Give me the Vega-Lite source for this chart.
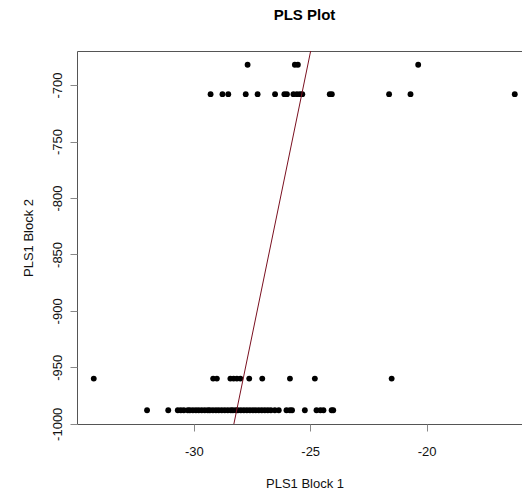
{
  "$schema": "https://vega.github.io/schema/vega-lite/v6.json",
  "autosize": "none",
  "width": 455,
  "height": 373,
  "padding": {"left": 77, "top": 51, "right": 0, "bottom": 68},
  "background": "white",
  "config": {
    "font": "Liberation Sans",
    "view": {"stroke": "#555", "strokeWidth": 1},
    "axis": {"grid": false, "domain": false, "tickColor": "#888", "tickSize": 7, "labelFont": "Liberation Sans", "labelFontSize": 13, "labelColor": "#111", "titleFont": "Liberation Sans", "titleFontSize": 13, "titleFontWeight": "normal", "titleColor": "#111", "labelExpr": "replace(datum.label, '\u2212', '-')"}
  },
  "title": {"text": "PLS Plot", "font": "Liberation Sans", "fontSize": 15, "fontWeight": "bold", "color": "#000", "offset": 26, "anchor": "middle"},
  "datasets": {
    "pts": [
      {"b1": -27.69, "b2": -682}, {"b1": -25.66, "b2": -682}, {"b1": -25.53, "b2": -682}, {"b1": -20.36, "b2": -682},
      {"b1": -29.28, "b2": -708}, {"b1": -28.77, "b2": -708}, {"b1": -28.52, "b2": -708}, {"b1": -27.77, "b2": -708},
      {"b1": -27.26, "b2": -708}, {"b1": -26.51, "b2": -708}, {"b1": -26.11, "b2": -708}, {"b1": -26.0, "b2": -708},
      {"b1": -25.72, "b2": -708}, {"b1": -25.57, "b2": -708}, {"b1": -25.44, "b2": -708}, {"b1": -25.34, "b2": -708},
      {"b1": -24.16, "b2": -708}, {"b1": -24.07, "b2": -708}, {"b1": -21.61, "b2": -708}, {"b1": -20.69, "b2": -708},
      {"b1": -16.21, "b2": -708},
      {"b1": -34.3, "b2": -960}, {"b1": -29.17, "b2": -960}, {"b1": -29.01, "b2": -960}, {"b1": -28.43, "b2": -960},
      {"b1": -28.29, "b2": -960}, {"b1": -28.15, "b2": -960}, {"b1": -28.0, "b2": -960}, {"b1": -27.62, "b2": -960},
      {"b1": -27.06, "b2": -960}, {"b1": -25.87, "b2": -960}, {"b1": -24.8, "b2": -960}, {"b1": -21.5, "b2": -960},
      {"b1": -32.01, "b2": -988}, {"b1": -31.1, "b2": -988}, {"b1": -30.69, "b2": -988}, {"b1": -30.56, "b2": -988},
      {"b1": -30.43, "b2": -988}, {"b1": -30.26, "b2": -988}, {"b1": -30.17, "b2": -988}, {"b1": -30.04, "b2": -988},
      {"b1": -29.91, "b2": -988}, {"b1": -29.79, "b2": -988}, {"b1": -29.66, "b2": -988}, {"b1": -29.53, "b2": -988},
      {"b1": -29.4, "b2": -988}, {"b1": -29.31, "b2": -988}, {"b1": -29.18, "b2": -988}, {"b1": -29.05, "b2": -988},
      {"b1": -28.93, "b2": -988}, {"b1": -28.8, "b2": -988}, {"b1": -28.67, "b2": -988}, {"b1": -28.54, "b2": -988},
      {"b1": -28.41, "b2": -988}, {"b1": -28.32, "b2": -988}, {"b1": -28.2, "b2": -988}, {"b1": -28.11, "b2": -988},
      {"b1": -27.98, "b2": -988}, {"b1": -27.85, "b2": -988}, {"b1": -27.72, "b2": -988}, {"b1": -27.59, "b2": -988},
      {"b1": -27.46, "b2": -988}, {"b1": -27.34, "b2": -988}, {"b1": -27.21, "b2": -988}, {"b1": -27.08, "b2": -988},
      {"b1": -26.95, "b2": -988}, {"b1": -26.82, "b2": -988}, {"b1": -26.69, "b2": -988}, {"b1": -26.52, "b2": -988},
      {"b1": -26.35, "b2": -988}, {"b1": -26.02, "b2": -988}, {"b1": -25.87, "b2": -988}, {"b1": -25.78, "b2": -988},
      {"b1": -25.23, "b2": -988}, {"b1": -24.73, "b2": -988}, {"b1": -24.56, "b2": -988}, {"b1": -24.43, "b2": -988},
      {"b1": -24.08, "b2": -988}, {"b1": -24.01, "b2": -988}
    ],
    "fit": [
      {"b1": -28.28, "b2": -1000.2},
      {"b1": -24.98, "b2": -669.8}
    ]
  },
  "layer": [
    {
      "data": {"name": "pts"},
      "mark": {"type": "point", "shape": "circle", "filled": true, "size": 34, "color": "#000", "opacity": 1, "strokeWidth": 0},
      "encoding": {
        "x": {"field": "b1", "type": "quantitative", "scale": {"domain": [-35.02, -15.47], "nice": false, "zero": false},
              "axis": {"title": "PLS1 Block 1", "values": [-30, -25, -20], "format": "d", "labelPadding": 14, "titlePadding": 19}},
        "y": {"field": "b2", "type": "quantitative", "scale": {"domain": [-1000.2, -669.8], "nice": false, "zero": false},
              "axis": {"title": "PLS1 Block 2", "values": [-1000, -950, -900, -850, -800, -750, -700], "format": "d", "labelAngle": -90, "labelAlign": "center", "labelBaseline": "bottom", "labelPadding": 6, "titlePadding": 16}}
      }
    },
    {
      "data": {"name": "fit"},
      "mark": {"type": "line", "color": "#7a1020", "strokeWidth": 1},
      "encoding": {
        "x": {"field": "b1", "type": "quantitative"},
        "y": {"field": "b2", "type": "quantitative"}
      }
    }
  ]
}
